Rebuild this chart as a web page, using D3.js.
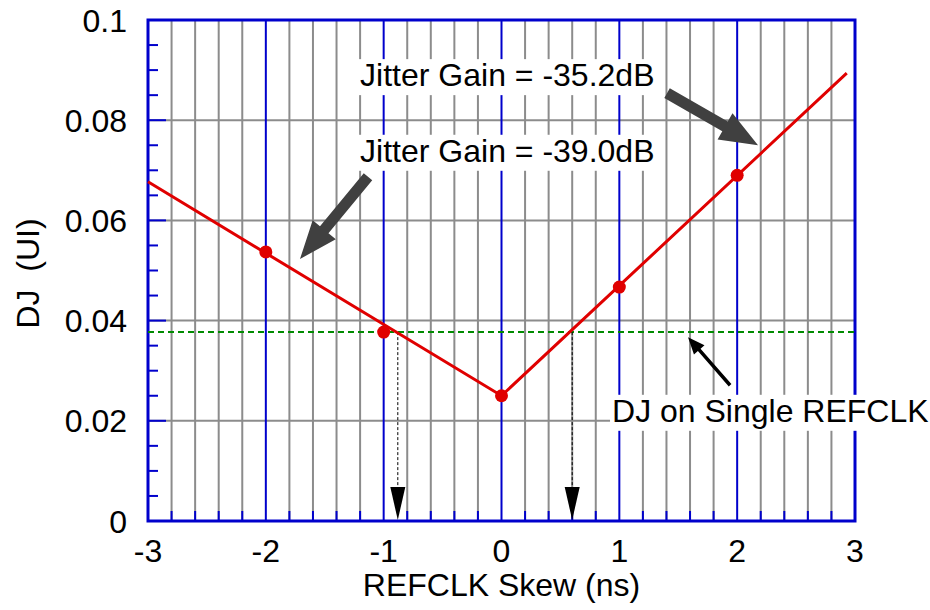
<!DOCTYPE html>
<html><head><meta charset="utf-8">
<script src="https://cdn.jsdelivr.net/npm/d3@7"></script>
<style>body{margin:0;background:#fff}svg{display:block;font-family:"Liberation Sans",Arial,sans-serif}</style>
</head><body>
<script>
// ---- data ----
const xTickValues = [-3, -2, -1, 0, 1, 2, 3];
const yTickValues = [0, 0.02, 0.04, 0.06, 0.08, 0.1];
const yTickLabels = ["0", "0.02", "0.04", "0.06", "0.08", "0.1"];
const measSkew = [-2, -1, 0, 1, 2];
const measDJ = [0.0537, 0.0377, 0.0250, 0.0467, 0.0690];
const fitSkew = [-3, 0, 2.93];
const fitDJ = [0.0677, 0.0250, 0.0894];
const singleRefclkDJ = 0.0377;
const crossSkew = [-0.88, 0.60];
const gainLabels = ["Jitter Gain = -35.2dB", "Jitter Gain = -39.0dB"];
// annotation anchors (data units): label x, label baseline y, arrow tail, arrow tip
const gainLabelX = [-1.20, -1.20];
const gainLabelY = [0.0868, 0.0717];
const gainArrowTail = [[1.405, 0.0854], [-1.133, 0.0687]];
const gainArrowTip = [[2.177, 0.0750], [-1.71, 0.0523]];
const djLabel = "DJ on Single REFCLK";
const djLabelPos = [0.938, 0.0198];
const djArrowTail = [1.94, 0.0271];
const djArrowTip = [1.583, 0.0367];

const W = 930, H = 610, FS = 32;
const svg = d3.select("body").append("svg").attr("width", W).attr("height", H);
const x = d3.scaleLinear().domain([-3, 3]).range([148, 855]);
const y = d3.scaleLinear().domain([0, 0.1]).range([521, 20]);
const BLUE = "#0000cc", GRAY = "#8c8c8c";

const g = svg.append("g");
// minor vertical grid every 0.2
const minorX = d3.range(-30, 31, 2).map(v => v / 10).filter(v => Math.abs(v - Math.round(v)) > 1e-6);
g.selectAll(".vg").data(minorX).join("line")
  .attr("x1", d => x(d)).attr("x2", d => x(d)).attr("y1", y(0)).attr("y2", y(0.1))
  .attr("stroke", GRAY).attr("stroke-width", 2);
// horizontal grid
g.selectAll(".hg").data(yTickValues.slice(1, -1)).join("line")
  .attr("x1", x(-3)).attr("x2", x(3)).attr("y1", d => y(d)).attr("y2", d => y(d))
  .attr("stroke", GRAY).attr("stroke-width", 2);
// major vertical blue
g.selectAll(".vb").data(xTickValues.slice(1, -1)).join("line")
  .attr("x1", d => x(d)).attr("x2", d => x(d)).attr("y1", y(0)).attr("y2", y(0.1))
  .attr("stroke", BLUE).attr("stroke-width", 2);
// bottom minor ticks (blue, inward)
g.selectAll(".bt").data(minorX).join("line")
  .attr("x1", d => x(d)).attr("x2", d => x(d)).attr("y1", y(0)).attr("y2", y(0) - 10)
  .attr("stroke", BLUE).attr("stroke-width", 2);
// left ticks every 0.005
const leftTicks = d3.range(0, 21).map(v => v * 0.005);
g.selectAll(".lt").data(leftTicks).join("line")
  .attr("x1", x(-3)).attr("x2", (d, i) => x(-3) + (i % 4 === 0 ? 18 : 10))
  .attr("y1", d => y(d)).attr("y2", d => y(d))
  .attr("stroke", BLUE).attr("stroke-width", 2);

// annotation label boxes (white)
function boxedText(sel, txt, px, py, anchor) {
  const t = sel.append("text").attr("x", px).attr("y", py).attr("font-size", FS)
    .attr("text-anchor", anchor || "start").attr("fill", "#000").text(txt);
  const b = t.node().getBBox();
  sel.insert("rect", () => t.node()).attr("x", b.x - 2).attr("y", b.y + 2)
    .attr("width", b.width + 4).attr("height", b.height).attr("fill", "#fff");
  return t;
}

// border
svg.append("rect").attr("x", x(-3)).attr("y", y(0.1)).attr("width", x(3) - x(-3)).attr("height", y(0) - y(0.1))
  .attr("fill", "none").attr("stroke", BLUE).attr("stroke-width", 3);

const ann = svg.append("g");
gainLabels.forEach((t, i) => boxedText(ann, t, x(gainLabelX[i]), y(gainLabelY[i])));
boxedText(ann, djLabel, x(djLabelPos[0]), y(djLabelPos[1]));

// green dashed single refclk line
svg.append("line").attr("x1", x(-3)).attr("x2", x(3)).attr("y1", y(singleRefclkDJ)).attr("y2", y(singleRefclkDJ))
  .attr("stroke", "#008a00").attr("stroke-width", 2).attr("stroke-dasharray", "6,4");

// vertical dashed arrows
crossSkew.forEach(s => {
  svg.append("line").attr("x1", x(s)).attr("x2", x(s)).attr("y1", y(singleRefclkDJ)).attr("y2", y(0) - 30)
    .attr("stroke", "#000").attr("stroke-width", 1).attr("stroke-dasharray", "3,2");
  const tx = x(s), ty = y(0) - 1;
  svg.append("path").attr("d", `M${tx},${ty}L${tx - 7.5},${ty - 33}L${tx + 7.5},${ty - 33}Z`).attr("fill", "#000");
});

// fit line
svg.append("path").datum(fitSkew.map((s, i) => [s, fitDJ[i]]))
  .attr("d", d3.line().x(d => x(d[0])).y(d => y(d[1])))
  .attr("fill", "none").attr("stroke", "#e00000").attr("stroke-width", 3);
svg.selectAll(".pt").data(measSkew.map((s, i) => [s, measDJ[i]])).join("circle")
  .attr("cx", d => x(d[0])).attr("cy", d => y(d[1])).attr("r", 6.5).attr("fill", "#e00000");

// thick gray arrows
function thickArrow(tail, tip, shaftW, headW, headL, color) {
  const x0 = x(tail[0]), y0 = y(tail[1]), x1 = x(tip[0]), y1 = y(tip[1]);
  const dx = x1 - x0, dy = y1 - y0, L = Math.hypot(dx, dy);
  const ux = dx / L, uy = dy / L, nx = -uy, ny = ux;
  const bx = x1 - ux * headL, by = y1 - uy * headL;
  const pts = [
    [x0 + nx * shaftW / 2, y0 + ny * shaftW / 2],
    [bx + nx * shaftW / 2, by + ny * shaftW / 2],
    [bx + nx * headW / 2, by + ny * headW / 2],
    [x1, y1],
    [bx - nx * headW / 2, by - ny * headW / 2],
    [bx - nx * shaftW / 2, by - ny * shaftW / 2],
    [x0 - nx * shaftW / 2, y0 - ny * shaftW / 2]
  ];
  svg.append("path").attr("d", "M" + pts.map(p => p.join(",")).join("L") + "Z").attr("fill", color);
}
gainArrowTail.forEach((t, i) => thickArrow(t, gainArrowTip[i], 11, 30, 38, "#404040"));
thickArrow(djArrowTail, djArrowTip, 3.5, 14, 17, "#000");

// axes labels
svg.selectAll(".xl").data(xTickValues).join("text")
  .attr("x", d => x(d)).attr("y", 562).attr("text-anchor", "middle").attr("font-size", FS).text(d => d);
svg.selectAll(".yl").data(yTickValues).join("text")
  .attr("x", 127).attr("y", d => y(d) + 11.5).attr("text-anchor", "end").attr("font-size", FS)
  .text((d, i) => yTickLabels[i]);
svg.append("text").attr("x", (x(-3) + x(3)) / 2).attr("y", 596).attr("text-anchor", "middle")
  .attr("font-size", FS).text("REFCLK Skew (ns)");
svg.append("text").attr("transform", `translate(39,${(y(0) + y(0.1)) / 2 + 3}) rotate(-90)`)
  .attr("text-anchor", "middle").attr("font-size", FS).attr("xml:space", "preserve").text("DJ  (UI)");
</script>
</body></html>
